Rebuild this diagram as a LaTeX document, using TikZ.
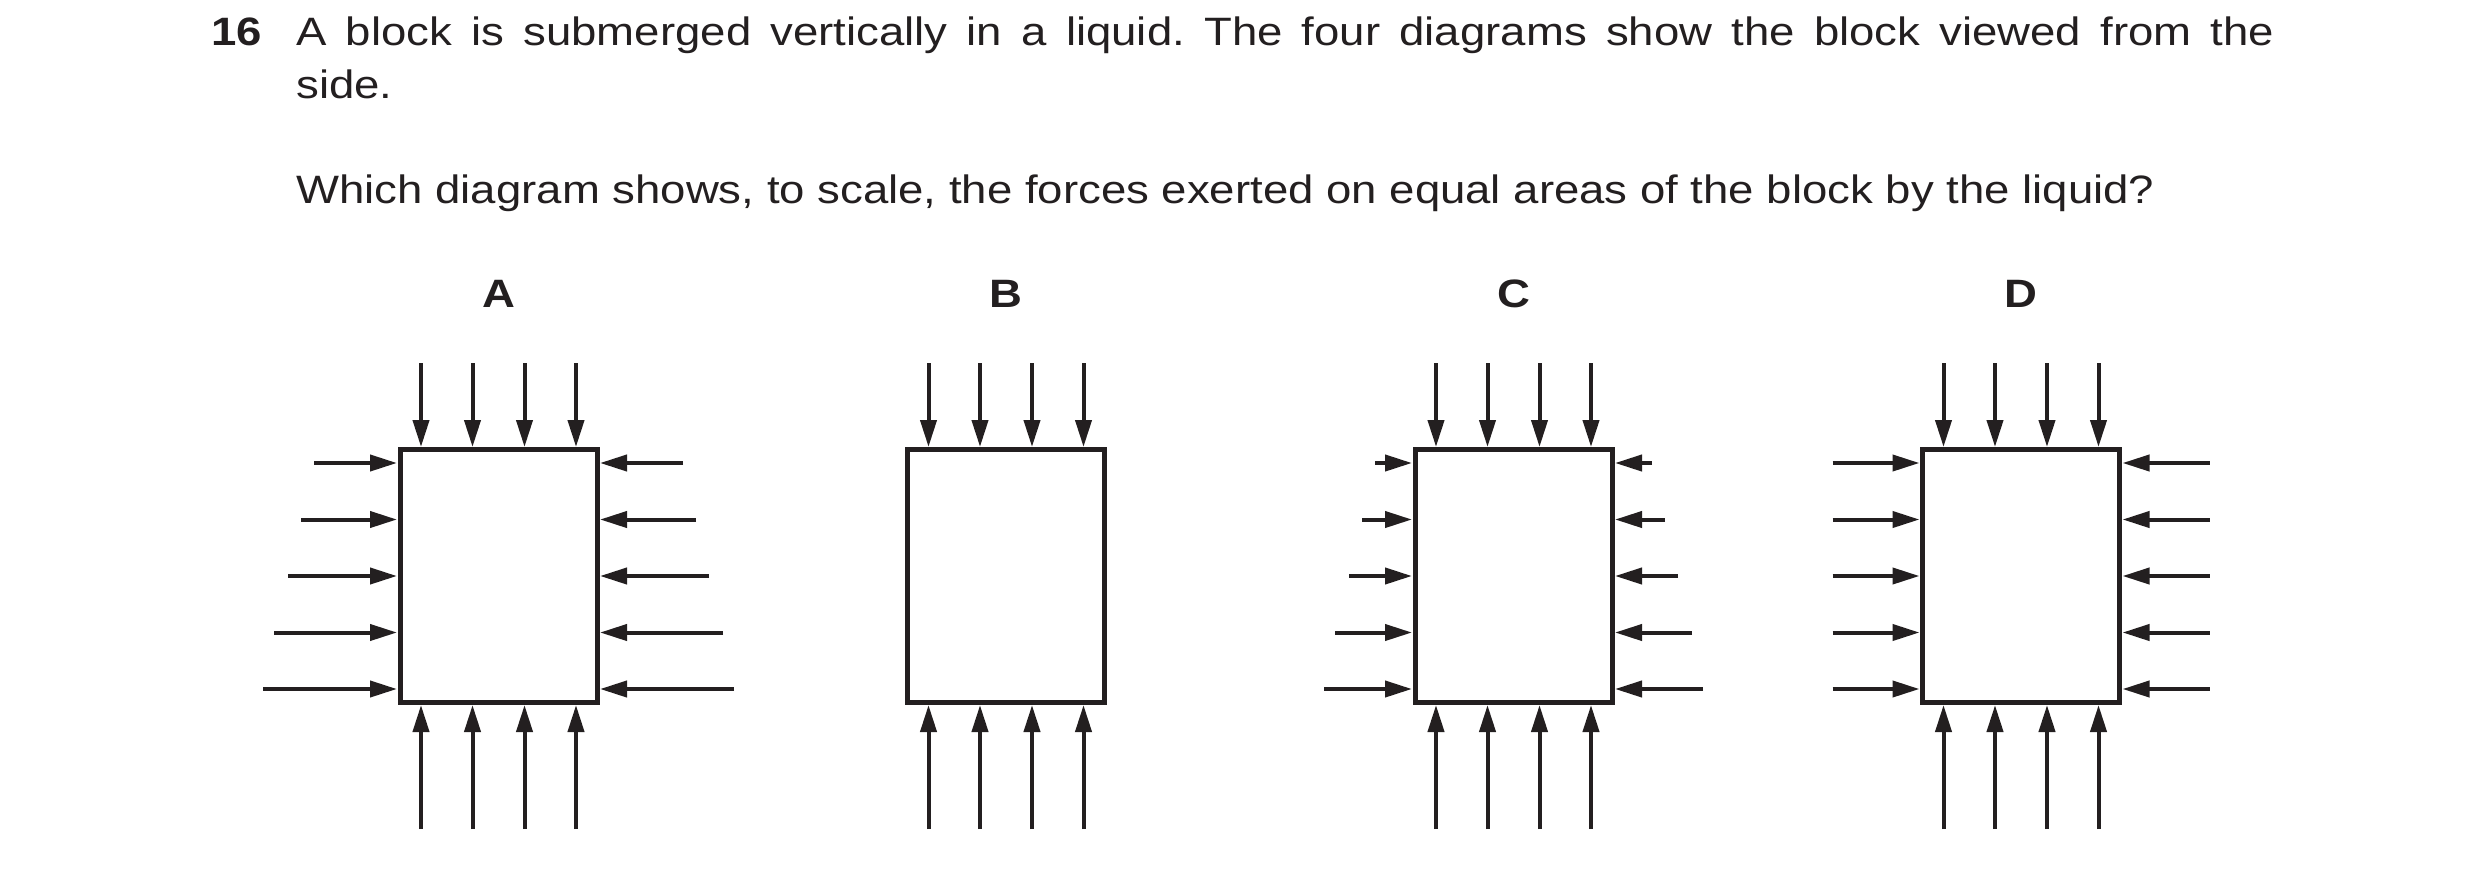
\documentclass[tikz,border=0pt]{standalone}
\usepackage{fontspec}
\setmainfont{Liberation Sans}[FakeStretch=1.15]
\usetikzlibrary{arrows.meta,calc}
\definecolor{ink}{HTML}{231F20}
\frenchspacing
\begin{document}
\begin{tikzpicture}[x=0.5pt,y=-0.5pt,
  txt/.style={anchor=base west,inner sep=0,font=\fontsize{19.8pt}{24pt}\selectfont,text=ink},
  lab/.style={anchor=base,inner sep=0,font=\fontsize{19.8pt}{24pt}\selectfont\bfseries,text=ink},
  blk/.style={draw=ink,line width=2.5pt,minimum width=98.5pt,minimum height=126.5pt,inner sep=0},
  force/.style={draw=ink,line width=2pt,-{Triangle[length=13.5pt,width=8pt]}}]
\useasboundingbox (0,0) rectangle (2480,885);
\node[txt,font=\fontsize{19.8pt}{24pt}\selectfont\bfseries] (num) at (211,45) {16};
\node[txt] (l1) at (296,45) {\makebox[989pt][s]{A block is submerged vertically in a liquid. The four diagrams show the block viewed from the}};
\node[txt] (l2) at (296,98) {side.};
\node[txt] (l3) at (296,203) {Which diagram shows, to scale, the forces exerted on equal areas of the block by the liquid?};
\newcommand\blockcore[3]{%
  \node[blk] (#1) at (#2,576) {};
  \node[lab] (#1lab) at (#2,307) {#3};
  \foreach \dx in {-77.5,-26,26,77.5}{
    \draw[force] ($(#1.center)+(\dx,-213)$) -- ($(#1.center)+(\dx,-129)$);
    \draw[force] ($(#1.center)+(\dx,253)$) -- ($(#1.center)+(\dx,129)$);
  }}
\newcommand\sidearrows[2]{%
  \foreach \dy/\L in {#2}{
    \draw[force] ($(#1.center)+(-101.5-\L,\dy)$) -- ($(#1.center)+(-101.5,\dy)$);
    \draw[force] ($(#1.center)+(101.5+\L,\dy)$) -- ($(#1.center)+(101.5,\dy)$);
  }}
\blockcore{bA}{498.5}{A}
\sidearrows{bA}{-113/83,-56.5/96,0/109,56.5/123,113/134}
\blockcore{bB}{1006}{B}
\blockcore{bC}{1513.5}{C}
\sidearrows{bC}{-113/37,-56.5/50,0/63,56.5/77,113/88}
\blockcore{bD}{2021}{D}
\sidearrows{bD}{-113/87,-56.5/87,0/87,56.5/87,113/87}
\end{tikzpicture}
\end{document}
